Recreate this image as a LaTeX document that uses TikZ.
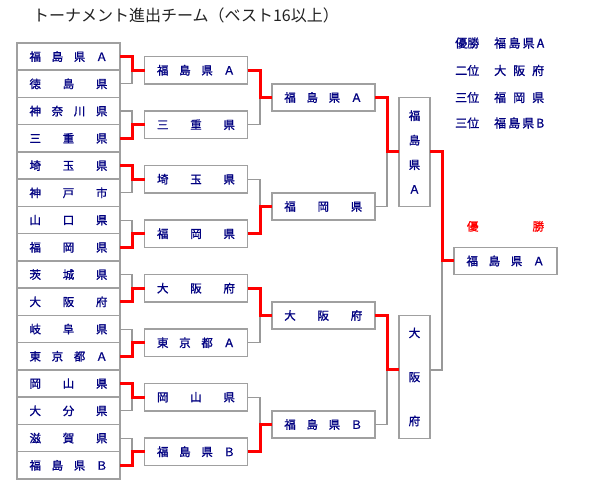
\documentclass[tikz,border=0pt]{standalone}
\usepackage{fontspec}
\setmainfont{Noto Sans CJK JP}
\newfontfamily\heavyjp[FakeBold=1.2]{Noto Sans CJK JP}
\usetikzlibrary{positioning,calc}
\definecolor{teamnavy}{HTML}{000080}
\definecolor{boxgray}{HTML}{A0A0A0}
\definecolor{linegray}{HTML}{999999}
\definecolor{winred}{HTML}{FF0000}
\definecolor{titleink}{HTML}{222222}

\begin{document}
\begin{tikzpicture}[
    x=1pt, y=-1pt,
    spread/.style={execute at begin node={\hbox to #1\bgroup}, execute at end node={\egroup}},
    teambox/.style={draw=boxgray, line width=1.5pt, minimum width=103pt, minimum height=27.25pt,
        inner sep=0pt, outer sep=0pt, text=teamnavy, font=\heavyjp\fontsize{11.5}{14}\selectfont, spread=78pt},
    vteambox/.style={draw=boxgray, line width=1.5pt, minimum width=31pt, inner sep=0pt, outer sep=0pt,
        align=center, text=teamnavy, font=\heavyjp\fontsize{11.5}{14}\selectfont},
    legend/.style={text=teamnavy, font=\heavyjp\fontsize{12}{14}\selectfont, inner sep=0pt, anchor=west},
    champhead/.style={text=winred, font=\heavyjp\fontsize{11.5}{14}\selectfont, inner sep=0pt, spread=77pt},
    headline/.style={text=titleink, font=\fontsize{16}{19}\selectfont, inner sep=0pt, anchor=west},
    win/.style={draw=winred, line width=3pt},
    lose/.style={draw=linegray, line width=1.2pt}
]
\useasboundingbox (0,0) rectangle (600,500);

\node[headline] (title) at (33,15) {トーナメント進出チーム（ベスト16以上）};

% First round: sixteen rows sharing their borders
\node[teambox] (a1) at (68.5,56.6) {福\hfill 島\hfill 県\hfill Ａ};
\node[teambox, below=0pt of a1] (a2) {徳\hfill 島\hfill 県};
\node[teambox, below=0pt of a2] (a3) {神\hfill 奈\hfill 川\hfill 県};
\node[teambox, below=0pt of a3] (a4) {三\hfill 重\hfill 県};
\node[teambox, below=0pt of a4] (a5) {埼\hfill 玉\hfill 県};
\node[teambox, below=0pt of a5] (a6) {神\hfill 戸\hfill 市};
\node[teambox, below=0pt of a6] (a7) {山\hfill 口\hfill 県};
\node[teambox, below=0pt of a7] (a8) {福\hfill 岡\hfill 県};
\node[teambox, below=0pt of a8] (a9) {茨\hfill 城\hfill 県};
\node[teambox, below=0pt of a9] (a10) {大\hfill 阪\hfill 府};
\node[teambox, below=0pt of a10] (a11) {岐\hfill 阜\hfill 県};
\node[teambox, below=0pt of a11] (a12) {東\hfill 京\hfill 都\hfill Ａ};
\node[teambox, below=0pt of a12] (a13) {岡\hfill 山\hfill 県};
\node[teambox, below=0pt of a13] (a14) {大\hfill 分\hfill 県};
\node[teambox, below=0pt of a14] (a15) {滋\hfill 賀\hfill 県};
\node[teambox, below=0pt of a15] (a16) {福\hfill 島\hfill 県\hfill Ｂ};

% Second round
\node[teambox] (b1) at (196,0 |- a1.south) {福\hfill 島\hfill 県\hfill Ａ};
\node[teambox] (b2) at (196,0 |- a3.south) {三\hfill 重\hfill 県};
\node[teambox] (b3) at (196,0 |- a5.south) {埼\hfill 玉\hfill 県};
\node[teambox] (b4) at (196,0 |- a7.south) {福\hfill 岡\hfill 県};
\node[teambox] (b5) at (196,0 |- a9.south) {大\hfill 阪\hfill 府};
\node[teambox] (b6) at (196,0 |- a11.south) {東\hfill 京\hfill 都\hfill Ａ};
\node[teambox] (b7) at (196,0 |- a13.south) {岡\hfill 山\hfill 県};
\node[teambox] (b8) at (196,0 |- a15.south) {福\hfill 島\hfill 県\hfill Ｂ};

% Quarter finals
\node[teambox] (c1) at (323.3,0 |- a2.south) {福\hfill 島\hfill 県\hfill Ａ};
\node[teambox] (c2) at (323.3,0 |- a6.south) {福\hfill 岡\hfill 県};
\node[teambox] (c3) at (323.3,0 |- a10.south) {大\hfill 阪\hfill 府};
\node[teambox] (c4) at (323.3,0 |- a14.south) {福\hfill 島\hfill 県\hfill Ｂ};

% Semi finals, upright text
\node[vteambox, minimum height=109pt] (semi1) at (414.5,0 |- a4.south)
  {福\\[10.5pt]島\\[10.5pt]県\\[10.5pt]Ａ};
\node[vteambox, minimum height=123pt, anchor=north] (semi2) at (414.5,0 |- c3)
  {大\\[30pt]阪\\[30pt]府};

% Champion
\node[teambox] (winner) at (505.5,0 |- a8.south) {福\hfill 島\hfill 県\hfill Ａ};
\node[champhead] (winhead) at ($(winner.north)+(0,-21)$) {優\hfill 勝};

% Ranking list
\node[legend] (rank1) at (455,43) {優勝};
\node[legend] (rank2) at (455,70.5) {二位};
\node[legend] (rank3) at (455,97.5) {三位};
\node[legend] (rank4) at (455,123) {三位};
\node[legend, spread=50pt] (name1) at (494,43) {福\hfill 島\hfill 県\hfill A};
\node[legend, spread=50pt] (name2) at (494,70.5) {大\hfill 阪\hfill 府};
\node[legend, spread=50pt] (name3) at (494,97.5) {福\hfill 岡\hfill 県};
\node[legend, spread=50pt] (name4) at (494,123) {福\hfill 島\hfill 県\hfill B};

\coordinate (j1) at (132,0);
\coordinate (j2) at (260,0);
\coordinate (j3) at (387,0);
\coordinate (j4) at (442,0);

% Losers in grey first, winners in red on top
\draw[lose] (a2.east) -| (j1 |- b1);
\draw[lose] (a3.east) -| (j1 |- b2);
\draw[lose] (a6.east) -| (j1 |- b3);
\draw[lose] (a7.east) -| (j1 |- b4);
\draw[lose] (a9.east) -| (j1 |- b5);
\draw[lose] (a11.east) -| (j1 |- b6);
\draw[lose] (a14.east) -| (j1 |- b7);
\draw[lose] (a15.east) -| (j1 |- b8);
\draw[lose] (b2.east) -| (j2 |- c1);
\draw[lose] (b3.east) -| (j2 |- c2);
\draw[lose] (b6.east) -| (j2 |- c3);
\draw[lose] (b7.east) -| (j2 |- c4);
\draw[lose] (c2.east) -| (j3 |- semi1);
\draw[lose] (c4.east) -| (j3 |- a12.south);
\draw[lose] (semi2.east |- a12.south) -| (j4 |- winner);

\draw[win] (a1.east) -| (j1 |- b1) -- (b1.west);
\draw[win] (a4.east) -| (j1 |- b2) -- (b2.west);
\draw[win] (a5.east) -| (j1 |- b3) -- (b3.west);
\draw[win] (a8.east) -| (j1 |- b4) -- (b4.west);
\draw[win] (a10.east) -| (j1 |- b5) -- (b5.west);
\draw[win] (a12.east) -| (j1 |- b6) -- (b6.west);
\draw[win] (a13.east) -| (j1 |- b7) -- (b7.west);
\draw[win] (a16.east) -| (j1 |- b8) -- (b8.west);
\draw[win] (b1.east) -| (j2 |- c1) -- (c1.west);
\draw[win] (b4.east) -| (j2 |- c2) -- (c2.west);
\draw[win] (b5.east) -| (j2 |- c3) -- (c3.west);
\draw[win] (b8.east) -| (j2 |- c4) -- (c4.west);
\draw[win] (c1.east) -| (j3 |- semi1) -- (semi1.west);
\draw[win] (c3.east) -| (j3 |- a12.south) -- (semi2.west |- a12.south);
\draw[win] (semi1.east) -| (j4 |- winner) -- (winner.west);
\end{tikzpicture}
\end{document}
